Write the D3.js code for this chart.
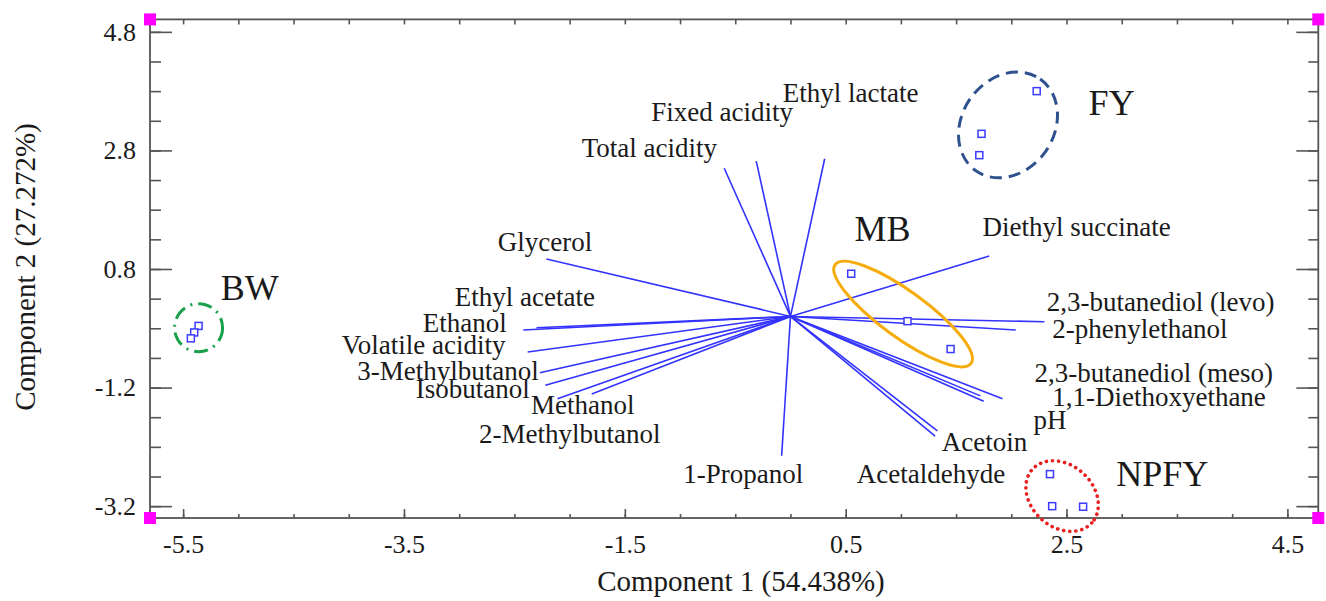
<!DOCTYPE html>
<html>
<head>
<meta charset="utf-8">
<script src="https://cdn.jsdelivr.net/npm/d3@7/dist/d3.min.js"></script>
<style>
  html, body { margin: 0; padding: 0; background: #fff; }
  svg { display: block; }
  text { font-family: "Liberation Serif", "Times New Roman", serif; fill: #1a1a1a; }
</style>
</head>
<body>
<svg id="chart" width="1326" height="601"></svg>
<script>
// ---------------- DATA ----------------
const xTitle = "Component 1 (54.438%)";
const yTitle = "Component 2 (27.272%)";
const xTickLabels = [-5.5, -3.5, -1.5, 0.5, 2.5, 4.5];
const yTickLabels = [4.8, 2.8, 0.8, -1.2, -3.2];

// loading vectors (component 1, component 2)
const variables = [
  "Total acidity", "Fixed acidity", "Ethyl lactate", "Glycerol", "Ethyl acetate",
  "Ethanol", "Volatile acidity", "3-Methylbutanol", "Isobutanol", "Methanol",
  "2-Methylbutanol", "1-Propanol", "Diethyl succinate", "2,3-butanediol (levo)",
  "2-phenylethanol", "2,3-butanediol (meso)", "1,1-Diethoxyethane", "pH",
  "Acetoin", "Acetaldehyde"
];
const loadC1 = [-0.60, -0.31, 0.31, -2.21, -2.30, -2.42, -2.38, -2.27, -2.22, -2.11,
                -1.80, -0.08, 1.80, 2.30, 2.04, 1.92, 1.75, 1.72, 1.33, 1.31];
const loadC2 = [2.50, 2.62, 2.66, 0.97, -0.19, -0.23, -0.60, -0.95, -1.16, -1.39,
                -1.31, -2.35, 1.02, -0.09, -0.23, -1.39, -1.43, -1.34, -1.93, -2.02];

// sample scores
const groups = ["FY", "MB", "BW", "NPFY"];
const scoreGroup = ["FY", "FY", "FY", "MB", "MB", "MB", "BW", "BW", "BW", "NPFY", "NPFY", "NPFY"];
const scoreC1 = [2.23, 1.73, 1.71, 0.55, 1.06, 1.45, -5.36, -5.40, -5.43, 2.35, 2.37, 2.65];
const scoreC2 = [3.80, 3.08, 2.72, 0.72, -0.08, -0.55, -0.16, -0.27, -0.37, -2.66, -3.20, -3.21];

// ---------------- LAYOUT (annotation placement, in data units) ----------------
const labelX = [-1.89, -1.26, -0.07, -2.65, -3.04, -2.57, -2.58, -2.28, -2.36, -2.35,
                -2.82, -0.97, 1.74, 2.32, 2.37, 2.21, 2.37, 2.20, 1.37, 0.60];
const labelY = [2.69, 3.30, 3.62, 1.10, 0.18, -0.27, -0.64, -1.08, -1.37, -1.64,
                -2.13, -2.81, 1.36, 0.09, -0.36, -1.11, -1.51, -1.90, -2.27, -2.81];
const labelAnchor = ["start", "start", "start", "start", "start", "end", "end", "end", "end", "start",
                     "start", "start", "start", "start", "start", "start", "start", "start", "start", "start"];

const groupLabelX = [2.70, 0.58, -5.16, 2.95];
const groupLabelY = [3.40, 1.28, 0.28, -2.86];

// ellipse annotations: centre (data units), radii (px), rotation (deg), style
const ellipseCX = [1.97, 1.02, -5.36, 2.46];
const ellipseCY = [3.23, 0.04, -0.19, -3.03];
const ellipseRX = [56, 84, 24, 40];
const ellipseRY = [46, 23, 24, 31];
const ellipseRot = [-55, 36, 0, 42];
const ellipseColor = ["#2f528f", "#f5ad0d", "#18a04a", "#e8201f"];
const ellipseDash = ["12 7", null, "14 6 2 6", "0.1 6"];

// ---------------- CHART ----------------
const svg = d3.select("#chart");
const x = d3.scaleLinear().domain([-5.8, 4.78]).range([150, 1318.3]);
const y = d3.scaleLinear().domain([-3.4, 5.01]).range([518, 19.4]);

const X0 = x.range()[0], X1 = x.range()[1], Y0 = y.range()[1], Y1 = y.range()[0];
const axisColor = "#555";
const fontTick = 26;
const fmt = d => d3.format(".1f")(d).replace("\u2212", "-");

const xMinor = d3.range(-5.5, 4.51, 0.5);
const yMinor = d3.range(-3.2, 4.81, 0.5);

function styleAxis(g) {
  g.select(".domain").remove();
  g.selectAll(".tick line").attr("stroke", axisColor).attr("stroke-width", 1.6);
  g.selectAll(".tick text").attr("fill", "#1a1a1a")
    .style("font-family", '"Liberation Serif", "Times New Roman", serif')
    .style("font-size", fontTick + "px");
}

// bottom minor + major
svg.append("g").attr("transform", `translate(0,${Y1})`)
  .call(d3.axisBottom(x).tickValues(xMinor).tickSize(-4).tickFormat(""))
  .call(styleAxis);
svg.append("g").attr("transform", `translate(0,${Y1})`)
  .call(d3.axisBottom(x).tickValues(xTickLabels).tickSize(-9).tickPadding(17).tickFormat(fmt))
  .call(styleAxis);
// top
svg.append("g").attr("transform", `translate(0,${Y0})`)
  .call(d3.axisTop(x).tickValues(xMinor).tickSize(-5).tickFormat(""))
  .call(styleAxis);
// left minor + major
svg.append("g").attr("transform", `translate(${X0},0)`)
  .call(d3.axisLeft(y).tickValues(yMinor).tickSize(-11).tickFormat(""))
  .call(styleAxis);
svg.append("g").attr("transform", `translate(${X0},0)`)
  .call(d3.axisLeft(y).tickValues(yTickLabels).tickSize(-22).tickPadding(14).tickFormat(fmt))
  .call(styleAxis);
// right
svg.append("g").attr("transform", `translate(${X1},0)`)
  .call(d3.axisRight(y).tickValues(yMinor).tickSize(-10).tickFormat(""))
  .call(styleAxis);
svg.append("g").attr("transform", `translate(${X1},0)`)
  .call(d3.axisRight(y).tickValues(yTickLabels).tickSize(-22).tickFormat(""))
  .call(styleAxis);

// frame
svg.append("rect").attr("x", X0).attr("y", Y0).attr("width", X1 - X0).attr("height", Y1 - Y0)
  .attr("fill", "none").attr("stroke", axisColor).attr("stroke-width", 1.8);

// corner markers
const corners = [[x.domain()[0], y.domain()[1]], [x.domain()[1], y.domain()[1]],
                 [x.domain()[0], y.domain()[0]], [x.domain()[1], y.domain()[0]]];
svg.append("g").selectAll("rect").data(corners).join("rect")
  .attr("x", d => x(d[0]) - 6).attr("y", d => y(d[1]) - 6)
  .attr("width", 12).attr("height", 12).attr("fill", "#ff00ff");

// axis titles
svg.append("text").attr("x", 741).attr("y", 591).attr("text-anchor", "middle")
  .style("font-size", "29px").text(xTitle);
svg.append("text").attr("transform", "translate(35,267) rotate(-90)")
  .attr("text-anchor", "middle").style("font-size", "29px").text(yTitle);

// vectors
const vec = variables.map((v, i) => ({ name: v, c1: loadC1[i], c2: loadC2[i], lx: labelX[i], ly: labelY[i], a: labelAnchor[i] }));
svg.append("g").selectAll("line").data(vec).join("line")
  .attr("x1", x(0)).attr("y1", y(0))
  .attr("x2", d => x(d.c1)).attr("y2", d => y(d.c2))
  .attr("stroke", "#3333ff").attr("stroke-width", 1.6);

svg.append("g").selectAll("text").data(vec).join("text")
  .attr("x", d => x(d.lx)).attr("y", d => y(d.ly))
  .attr("text-anchor", d => d.a)
  .style("font-size", "27px").text(d => d.name);

// ellipses
const ell = groups.map((g, i) => ({ g, cx: ellipseCX[i], cy: ellipseCY[i], rx: ellipseRX[i], ry: ellipseRY[i],
  rot: ellipseRot[i], color: ellipseColor[i], dash: ellipseDash[i] }));
svg.append("g").selectAll("ellipse").data(ell).join("ellipse")
  .attr("transform", d => `translate(${x(d.cx)},${y(d.cy)}) rotate(${d.rot})`)
  .attr("rx", d => d.rx).attr("ry", d => d.ry)
  .attr("fill", "none").attr("stroke", d => d.color).attr("stroke-width", d => d.g === "NPFY" ? 3.6 : 3)
  .attr("stroke-linecap", d => d.g === "NPFY" ? "round" : "butt")
  .attr("stroke-dasharray", d => d.dash);

// scores
const scores = scoreC1.map((c, i) => ({ c1: c, c2: scoreC2[i], g: scoreGroup[i] }));
svg.append("g").selectAll("rect").data(scores).join("rect")
  .attr("x", d => x(d.c1) - 3.5).attr("y", d => y(d.c2) - 3.5)
  .attr("width", 7).attr("height", 7)
  .attr("fill", "#fff").attr("stroke", "#3b3bff").attr("stroke-width", 1.5);

// group labels
svg.append("g").selectAll("text").data(groups).join("text")
  .attr("x", (d, i) => x(groupLabelX[i])).attr("y", (d, i) => y(groupLabelY[i]))
  .style("font-size", "36px").text(d => d);
</script>
</body>
</html>
